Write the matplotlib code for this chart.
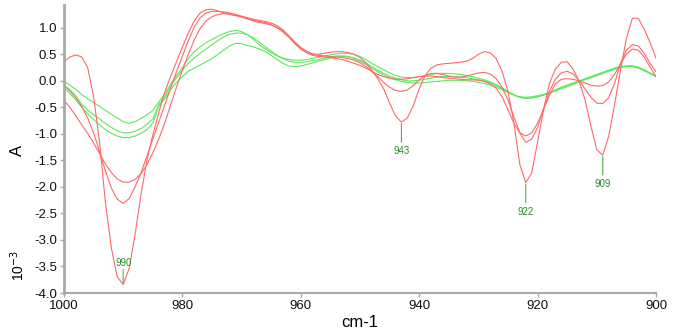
import matplotlib
matplotlib.use('Agg')
import matplotlib.pyplot as plt
from matplotlib.ticker import MultipleLocator, FormatStrFormatter

plt.rcParams['font.family'] = ['Liberation Sans', 'DejaVu Sans']
plt.rcParams['axes.unicode_minus'] = False

# wavenumber axis (cm-1), 1000 -> 900
wavenumber = list(range(1000, 899, -1))

# red spectra (x 10^-3)
red_1 = [0.36, 0.45, 0.49, 0.45, 0.25, -0.3, -1.15, -2.3, -3.15, -3.7,
         -3.84, -3.54, -2.9, -2.15, -1.5, -1.02, -0.6, -0.22, 0.08, 0.36,
         0.64, 0.9, 1.13, 1.28, 1.34, 1.35, 1.32, 1.28, 1.25, 1.23,
         1.2, 1.17, 1.14, 1.12, 1.1, 1.06, 1.0, 0.92, 0.82, 0.7,
         0.6, 0.53, 0.5, 0.5, 0.52, 0.54, 0.55, 0.55, 0.53, 0.5,
         0.44, 0.34, 0.2, 0.04, -0.15, -0.42, -0.66, -0.78, -0.7, -0.47,
         -0.15, 0.1, 0.24, 0.3, 0.32, 0.33, 0.34, 0.35, 0.37, 0.42,
         0.5, 0.55, 0.53, 0.42, 0.18, -0.2, -0.8, -1.58, -1.92, -1.74,
         -1.15, -0.55, -0.05, 0.22, 0.35, 0.36, 0.22, 0.0, -0.35, -0.85,
         -1.3, -1.4, -1.05, -0.45, 0.2, 0.8, 1.18, 1.18, 0.98, 0.72,
         0.43]
red_2 = [-0.08, -0.19, -0.32, -0.48, -0.7, -0.98, -1.33, -1.7, -2.02, -2.23,
         -2.31, -2.22, -2.0, -1.74, -1.42, -1.1, -0.78, -0.46, -0.14, 0.17,
         0.47, 0.76, 1.01, 1.19, 1.28, 1.31, 1.31, 1.3, 1.28, 1.25,
         1.22, 1.19, 1.16, 1.14, 1.12, 1.09, 1.04, 0.96, 0.85, 0.73,
         0.63, 0.56, 0.51, 0.48, 0.47, 0.46, 0.45, 0.44, 0.42, 0.39,
         0.34, 0.27, 0.18, 0.08, -0.03, -0.12, -0.18, -0.2, -0.17, -0.09,
         0.02, 0.1, 0.14, 0.14, 0.12, 0.09, 0.07, 0.07, 0.09, 0.12,
         0.15, 0.16, 0.13, 0.04, -0.12, -0.36, -0.68, -0.98, -1.16, -1.1,
         -0.88, -0.52, -0.2, 0.03, 0.15, 0.18, 0.13, 0.01, -0.15, -0.31,
         -0.42, -0.43, -0.32, -0.05, 0.33, 0.58, 0.68, 0.66, 0.52, 0.33,
         0.17]
red_3 = [-0.37, -0.5, -0.66, -0.83, -0.99, -1.17, -1.37, -1.57, -1.73, -1.85,
         -1.91, -1.91, -1.86, -1.75, -1.58, -1.36, -1.1, -0.8, -0.46, -0.12,
         0.2, 0.5, 0.77, 0.99, 1.13, 1.21, 1.25, 1.27, 1.26, 1.24,
         1.21, 1.17, 1.13, 1.1, 1.08, 1.05, 1.01, 0.94, 0.84, 0.72,
         0.61, 0.53, 0.48, 0.46, 0.45, 0.44, 0.42, 0.4, 0.37, 0.33,
         0.29, 0.24, 0.18, 0.12, 0.08, 0.05, 0.03, 0.03, 0.04, 0.06,
         0.08, 0.09, 0.09, 0.08, 0.06, 0.05, 0.04, 0.03, 0.02, 0.02,
         0.01, -0.01, -0.06, -0.14, -0.3, -0.55, -0.8, -0.98, -1.04, -0.98,
         -0.8, -0.54, -0.27, -0.06, 0.03, 0.04, 0.03, 0.0, -0.04, -0.08,
         -0.1, -0.09, -0.02, 0.12, 0.32, 0.5, 0.6, 0.58, 0.45, 0.26,
         0.08]

# green spectra (x 10^-3)
green_1 = [-0.01, -0.08, -0.16, -0.26, -0.34, -0.41, -0.48, -0.56, -0.63, -0.7,
           -0.77, -0.8, -0.77, -0.71, -0.64, -0.56, -0.4, -0.25, -0.07, 0.1,
           0.25, 0.42, 0.55, 0.64, 0.72, 0.78, 0.84, 0.89, 0.93, 0.95,
           0.93, 0.87, 0.78, 0.68, 0.6, 0.53, 0.47, 0.43, 0.4, 0.39,
           0.39, 0.4, 0.42, 0.45, 0.47, 0.49, 0.51, 0.52, 0.52, 0.5,
           0.46, 0.4, 0.33, 0.27, 0.21, 0.15, 0.1, 0.07, 0.06, 0.06,
           0.08, 0.1, 0.12, 0.14, 0.14, 0.14, 0.13, 0.12, 0.1, 0.08,
           0.05, 0.02, -0.02, -0.07, -0.13, -0.2, -0.26, -0.31, -0.33, -0.32,
           -0.3, -0.26, -0.22, -0.17, -0.12, -0.08, -0.04, 0.0, 0.04, 0.08,
           0.12, 0.16, 0.2, 0.24, 0.27, 0.28, 0.27, 0.24, 0.19, 0.14,
           0.08]
green_2 = [-0.08, -0.17, -0.28, -0.44, -0.55, -0.64, -0.72, -0.8, -0.88, -0.94,
           -0.98, -0.98, -0.95, -0.9, -0.82, -0.72, -0.45, -0.3, -0.1, 0.06,
           0.2, 0.33, 0.43, 0.52, 0.6, 0.68, 0.76, 0.83, 0.88, 0.9,
           0.9, 0.87, 0.81, 0.73, 0.64, 0.56, 0.48, 0.42, 0.37, 0.35,
           0.35, 0.36, 0.38, 0.4, 0.43, 0.45, 0.47, 0.47, 0.46, 0.43,
           0.39, 0.33, 0.27, 0.2, 0.14, 0.09, 0.05, 0.02, 0.0, 0.0,
           0.01, 0.03, 0.05, 0.07, 0.08, 0.08, 0.08, 0.07, 0.06, 0.04,
           0.02, 0.0, -0.04, -0.09, -0.15, -0.21, -0.27, -0.31, -0.33, -0.32,
           -0.3, -0.27, -0.23, -0.18, -0.13, -0.09, -0.05, -0.01, 0.03, 0.07,
           0.11, 0.15, 0.19, 0.23, 0.26, 0.28, 0.28, 0.25, 0.2, 0.14,
           0.08]
green_3 = [-0.12, -0.24, -0.36, -0.5, -0.62, -0.73, -0.83, -0.92, -0.99, -1.04,
           -1.07, -1.07, -1.04, -0.99, -0.92, -0.8, -0.48, -0.34, -0.17, -0.03,
           0.08, 0.18, 0.24, 0.3, 0.36, 0.42, 0.5, 0.58, 0.66, 0.71,
           0.7, 0.67, 0.64, 0.6, 0.55, 0.48, 0.4, 0.33, 0.28, 0.27,
           0.28, 0.31, 0.34, 0.37, 0.4, 0.43, 0.45, 0.46, 0.45, 0.42,
           0.37, 0.31, 0.24, 0.17, 0.11, 0.06, 0.02, -0.01, -0.03, -0.04,
           -0.04, -0.03, -0.02, -0.01, 0.0, 0.01, 0.01, 0.01, 0.0, -0.01,
           -0.03, -0.05, -0.08, -0.12, -0.17, -0.22, -0.27, -0.3, -0.31, -0.3,
           -0.28, -0.26, -0.23, -0.19, -0.15, -0.11, -0.07, -0.02, 0.02, 0.06,
           0.1, 0.14, 0.18, 0.22, 0.25, 0.27, 0.28, 0.26, 0.21, 0.15,
           0.09]

peak_positions = [990, 943, 922, 909]
peak_labels = ['990', '943', '922', '909']
peak_above = [True, False, False, False]

red_series = [red_1, red_2, red_3]
green_series = [green_1, green_2, green_3]

fig = plt.figure(figsize=(6.73, 3.30), dpi=100)
ax = fig.add_axes([64 / 673, 37 / 330, 592 / 673, 288 / 330])

for s in green_series:
    ax.plot(wavenumber, s, color='#5ee85e', lw=0.8, solid_joinstyle='round')
for s in red_series:
    ax.plot(wavenumber, s, color='#ff6868', lw=0.8, solid_joinstyle='round')

label_curve = red_1
for pos, lab, above in zip(peak_positions, peak_labels, peak_above):
    v = label_curve[wavenumber.index(pos)]
    if above:
        ax.annotate('', xy=(pos, v), xytext=(0, 15), textcoords='offset pixels',
                    arrowprops=dict(arrowstyle='-', color='#55aa55', lw=0.8,
                                    shrinkA=0, shrinkB=1))
        ax.annotate(lab, xy=(pos, v), xytext=(0, 22), textcoords='offset pixels',
                    ha='center', va='center', fontsize=7, color='#2a8a2a')
    else:
        ax.annotate('', xy=(pos, v), xytext=(0, -20), textcoords='offset pixels',
                    arrowprops=dict(arrowstyle='-', color='#55aa55', lw=0.8,
                                    shrinkA=0, shrinkB=1))
        ax.annotate(lab, xy=(pos, v), xytext=(0, -29), textcoords='offset pixels',
                    ha='center', va='center', fontsize=7, color='#2a8a2a')

ax.set_xlim(1000, 900)
ax.set_ylim(-4.0, 1.43)
ax.xaxis.set_major_locator(MultipleLocator(20))
ax.yaxis.set_major_locator(MultipleLocator(0.5))
ax.yaxis.set_major_formatter(FormatStrFormatter('%.1f'))
ax.xaxis.set_major_formatter(FormatStrFormatter('%d'))

for side in ['top', 'right']:
    ax.spines[side].set_visible(False)
ax.spines['left'].set_color('#a8a8a8')
ax.spines['left'].set_linewidth(2.0)
ax.spines['bottom'].set_color('#a8a8a8')
ax.spines['bottom'].set_linewidth(1.5)
ax.tick_params(axis='both', colors='#a8a8a8', labelcolor='#111111',
               labelsize=9.5, length=3, width=1)
ax.tick_params(axis='y', pad=2)
ax.tick_params(axis='x', pad=2)

ax.set_xlabel('cm-1', fontsize=12, labelpad=2)
fig.text(17 / 673, 1 - 150 / 330, 'A', rotation=90, ha='center',
         va='center', fontsize=12)
fig.text(18 / 673, 1 - 265 / 330, r'10$^{-3}$', rotation=90, ha='center',
         va='center', fontsize=10)

fig.savefig('out.png', dpi=100)
